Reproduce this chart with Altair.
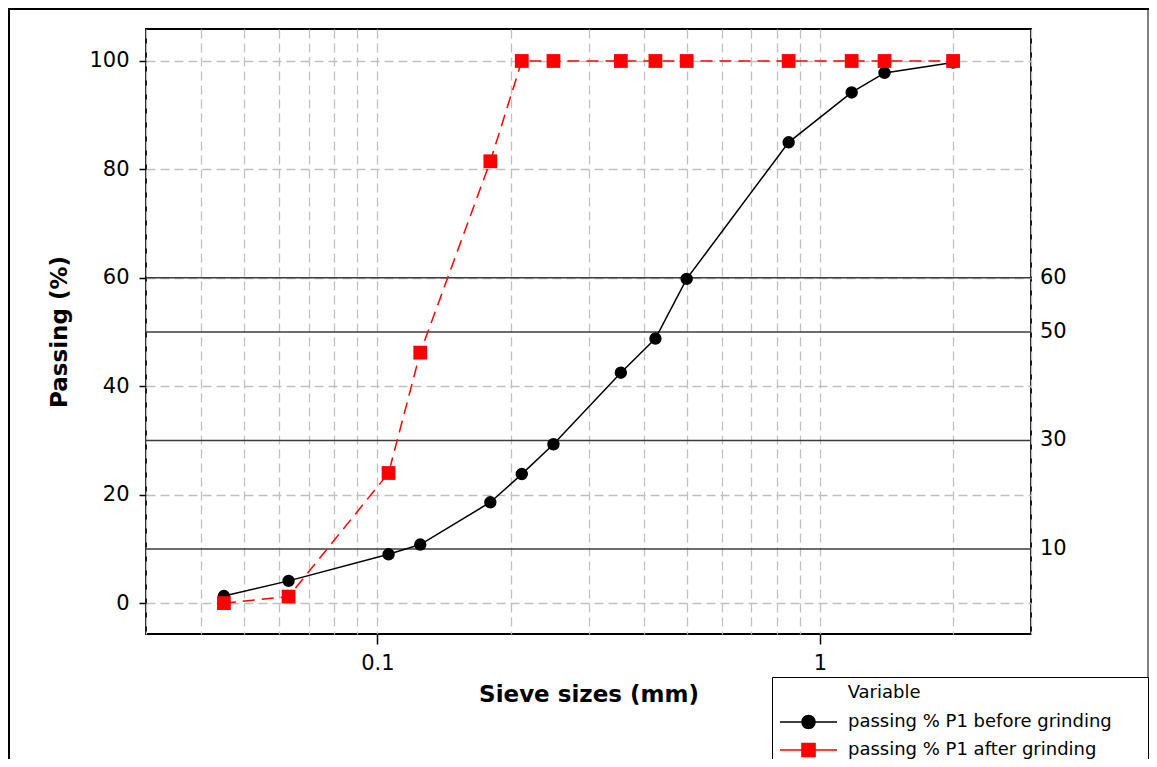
import altair as alt
import pandas as pd

# ---- data ----
sieve_mm = [0.045, 0.063, 0.106, 0.125, 0.18, 0.212, 0.25, 0.355, 0.425, 0.5, 0.85, 1.18, 1.4, 2.0]
before = [1.3, 4.1, 9.0, 10.8, 18.6, 23.8, 29.3, 42.5, 48.8, 59.8, 85.0, 94.2, 97.8, 99.7]
after = [0.0, 1.2, 24.0, 46.2, 81.5, 100, 100, 100, 100, 100, 100, 100, 100, 100]
series = ["passing % P1 before grinding", "passing % P1 after grinding"]
ref_levels = [10, 30, 50, 60]
x_grid = [0.03, 0.04, 0.05, 0.06, 0.07, 0.08, 0.09, 0.1, 0.2, 0.3, 0.4, 0.5,
          0.6, 0.7, 0.8, 0.9, 1, 2, 3]
y_ticks = [0, 20, 40, 60, 80, 100]

df = pd.DataFrame({
    "sieve": sieve_mm + sieve_mm,
    "passing": before + after,
    "Variable": [series[0]] * len(sieve_mm) + [series[1]] * len(sieve_mm),
})
ref_df = pd.DataFrame({"passing": ref_levels, "label": [str(v) for v in ref_levels]})
one = pd.DataFrame({"k": [0]})

W, H = 885, 605
PAD = {"left": 138, "top": 21, "right": 118, "bottom": 125}
FONT = "DejaVu Sans"

grid_kw = dict(gridColor="#c0c0c0", gridDash=[9, 5], gridWidth=1.3)
common = dict(labelFont=FONT, labelFontSize=21, labelColor="black",
              titleFont=FONT, titleFontSize=23, titleFontWeight="bold",
              titleColor="black", domain=False, **grid_kw)

x_axis = alt.Axis(
    values=x_grid,
    labelExpr="datum.value == 0.1 ? '0.1' : (datum.value == 1 ? '1' : '')",
    labelOverlap=False, labelFlush=False,
    tickColor={"condition": {"test": "datum.value == 0.1 || datum.value == 1", "value": "black"},
               "value": "transparent"},
    tickSize=10, tickWidth=1.5, labelPadding=8, titlePadding=10, **common)
y_axis = alt.Axis(values=y_ticks, tickSize=7, tickWidth=1.5, tickColor="black",
                  labelPadding=10, titlePadding=17, **common)

x_scale = alt.Scale(type="log", domain=[0.03, 3], nice=False)
y_scale = alt.Scale(domain=[-5.7, 105.9], nice=False, zero=False)

x_enc = alt.X("sieve:Q", scale=x_scale, axis=x_axis, title="Sieve sizes (mm)")
y_enc = alt.Y("passing:Q", scale=y_scale, axis=y_axis, title="Passing (%)")

base = alt.Chart(df).encode(x=x_enc, y=y_enc)
b_data = base.transform_filter(alt.datum.Variable == series[0])
a_data = base.transform_filter(alt.datum.Variable == series[1])

black_line = b_data.mark_line(color="black", strokeWidth=1.5)
black_pts = b_data.mark_point(shape="circle", filled=True, size=154, color="black", opacity=1)
red_line = a_data.mark_line(color="#ff0000", strokeWidth=1.5, strokeDash=[12, 7])
red_pts = a_data.mark_point(shape="square", filled=True, size=190, color="#ff0000", opacity=1)

ref_rules = alt.Chart(ref_df).mark_rule(color="#3c3c3c", strokeWidth=1.5).encode(y=y_enc)
ref_text = alt.Chart(ref_df).mark_text(align="left", baseline="middle", font=FONT,
                                       fontSize=21, color="black").encode(
    x=alt.value(W + 9), y=y_enc, text="label:N")

# legend symbols: line with marker
circle_path = "M-1,0H1M0.23,0A0.23,0.23,0,1,1,-0.23,0A0.23,0.23,0,1,1,0.23,0Z"
square_path = "M-1,0H1M-0.23,-0.23H0.23V0.23H-0.23Z"
nb = "\u00a0"
zw = "\u200b"
legend = alt.Legend(
    title=zw + nb * 12 + "Variable", orient="none", legendX=626, legendY=648,
    strokeColor="black", fillColor="white", padding=7,
    titleFont=FONT, titleFontSize=18, titleFontWeight="normal", titleColor="black",
    titlePadding=7, titleLimit=500, labelFont=FONT, labelFontSize=18, labelColor="black",
    labelOffset=10, labelLimit=500, symbolSize=3249, symbolStrokeWidth=1.5, clipHeight=26,
    rowPadding=2, labelExpr="datum.label + '" + nb * 5 + zw + "'")
legend_layer = base.transform_filter("false").mark_point(filled=True, opacity=1).encode(
    fill=alt.Fill("Variable:N", scale=alt.Scale(domain=series, range=["black", "#ff0000"]), legend=legend),
    stroke=alt.Stroke("Variable:N", scale=alt.Scale(domain=series, range=["black", "#ff0000"]), legend=legend),
    shape=alt.Shape("Variable:N", scale=alt.Scale(domain=series, range=[circle_path, square_path]), legend=legend),
)

frame_left = alt.Chart(one).mark_rule(color="black", strokeWidth=2).encode(
    x=alt.value(-137), y=alt.value(-20), y2=alt.value(H + 125))
frame_top = alt.Chart(one).mark_rule(color="black", strokeWidth=2).encode(
    x=alt.value(-138), x2=alt.value(W + 118), y=alt.value(-20))
frame_right = alt.Chart(one).mark_rule(color="black", strokeWidth=1).encode(
    x=alt.value(W + 117), y=alt.value(-20), y2=alt.value(H + 125))

chart = alt.layer(
    frame_left, frame_top, frame_right,
    ref_rules, ref_text, black_line, black_pts, red_line, red_pts, legend_layer,
).properties(
    width=W, height=H, autosize=alt.AutoSizeParams(type="none"), padding=PAD,
    background="white",
).configure_view(stroke="black", strokeWidth=1.8)

chart.save("out.html", embed_options={"renderer": "svg", "actions": False})
